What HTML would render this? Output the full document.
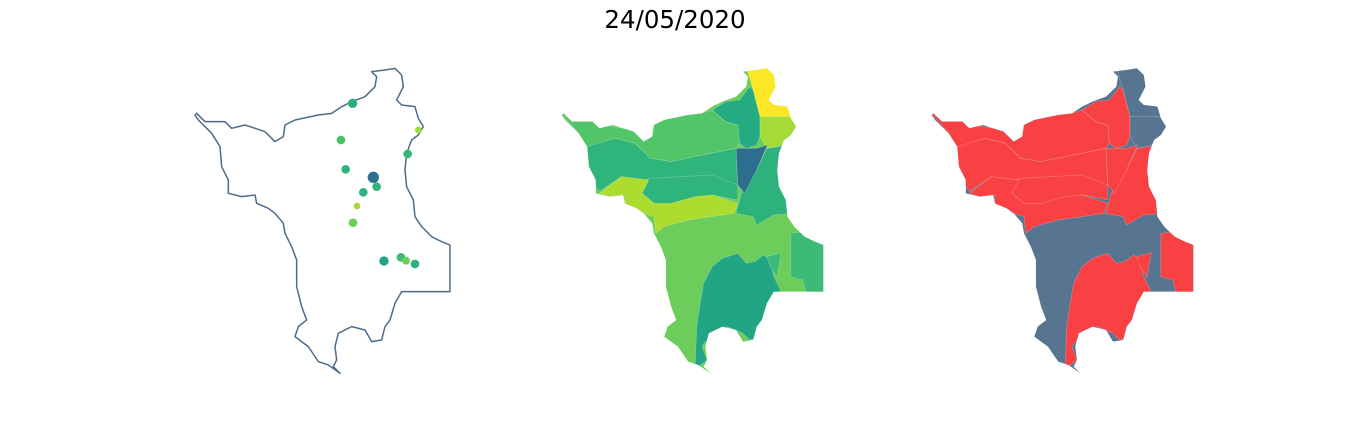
<!DOCTYPE html>
<html><head><meta charset="utf-8"><style>
html,body{margin:0;padding:0;background:#fff;}
svg{display:block;}
</style></head><body>
<svg id="chart" width="1350" height="444" viewBox="0 0 1350 444" xmlns="http://www.w3.org/2000/svg">
<text x="675" y="28" text-anchor="middle" font-family="DejaVu Sans, Liberation Sans, sans-serif" font-size="24.5" fill="#000">24/05/2020</text>
<defs><clipPath id="clip2"><path id="clipOutline"/></clipPath></defs>
<g id="p1" transform="translate(185,60) scale(0.3333)"></g>
<g id="p2" transform="translate(551.4,60) scale(0.342,0.3333)"></g>
<g id="p3" transform="translate(921.4,60) scale(0.342,0.3333)"></g>
</svg>
<script>
const NS="http://www.w3.org/2000/svg";
const outline=[[35,160],[60,185],[120,185],[140,205],[180,195],[210,205],[240,215],[270,245],[295,230],[300,195],[330,180],[400,165],[440,160],[470,140],[500,125],[540,110],[570,80],[575,50],[560,35],[600,30],[630,25],[650,45],[655,80],[635,120],[650,135],[690,140],[700,175],[715,200],[700,225],[680,240],[665,280],[660,330],[665,380],[685,420],[690,470],[710,500],[740,530],[770,545],[795,555],[795,695],[650,695],[630,730],[615,780],[600,800],[590,840],[560,845],[540,810],[500,800],[460,820],[450,860],[455,900],[445,920],[465,940],[430,915],[400,905],[370,860],[330,830],[340,800],[365,780],[350,740],[335,680],[335,600],[320,560],[300,520],[295,490],[270,460],[250,445],[215,430],[210,405],[170,410],[130,400],[130,360],[110,320],[105,260],[80,220],[40,180],[30,165]];
function pathOf(pts){return "M"+pts.map(p=>p[0]+","+p[1]).join("L")+"Z";}
const outline2=outline.map(p=>[p[0],p[1]]);
document.getElementById('clipOutline').setAttribute('d',pathOf(outline2));

// Point data (map coordinates in panel units), values, sizes
const ptX=[503,468,700,668,482,565,575,535,516,504,597,648,663,690];
const ptY=[130,240,210,282,328,352,380,397,438,488,603,592,602,612];
const ptColor=["#29af7f","#4ac16d","#a0da39","#35b779","#2fb47c","#2c728e","#2fb47c","#2db27d","#a5db36","#6ccd5a","#20a386","#3bbb75","#6ccd5a","#2db27d"];
const ptSize=[14,13,10,13,13,17,13,13,10,13,14,13,12,13];

const p1=document.getElementById('p1');
const ol=document.createElementNS(NS,'path');
ol.setAttribute('d',pathOf(outline));
ol.setAttribute('fill','#fff');ol.setAttribute('stroke','#4f6b8a');ol.setAttribute('stroke-width','4.5');ol.setAttribute('stroke-linejoin','round');


p1.appendChild(ol);
ptX.forEach((x,i)=>{const c=document.createElementNS(NS,'circle');
c.setAttribute('cx',x);c.setAttribute('cy',ptY[i]);c.setAttribute('r',ptSize[i]);c.setAttribute('fill',ptColor[i]);


p1.appendChild(c);});

const regions=[
 {n:"nw-band",c:"#52c569",b:1,p:[[20,150],[120,185],[180,200],[240,210],[300,180],[350,170],[440,160],[470,150],[510,185],[545,195],[550,250],[540,265],[420,290],[350,305],[290,295],[245,250],[185,235],[105,265],[80,220]]},
 {n:"north-teal",c:"#25ab82",b:1,p:[[470,150],[510,125],[550,120],[580,80],[590,90],[610,170],[610,230],[600,255],[570,265],[550,250],[545,195],[510,185]]},
 {n:"far-north",c:"#fde725",b:0,p:[[570,20],[670,20],[670,60],[660,125],[720,140],[715,170],[610,170],[590,90]]},
 {n:"northeast",c:"#a5db36",b:0,p:[[610,170],[715,170],[740,200],[715,235],[660,260],[630,265],[610,230]]},
 {n:"west-center",c:"#2fb47c",b:1,p:[[90,265],[185,235],[245,250],[290,295],[350,305],[420,290],[540,265],[545,375],[540,400],[470,370],[420,360],[290,355],[260,365],[205,350],[140,395],[120,360]]},
 {n:"center-strip",c:"#2fb47c",b:1,p:[[260,365],[290,355],[470,345],[545,375],[545,420],[470,405],[420,420],[340,440],[300,430],[265,400]]},
 {n:"lime-strip",c:"#addc30",b:1,p:[[140,400],[205,350],[285,360],[265,400],[300,430],[350,430],[420,410],[470,405],[545,430],[535,460],[400,480],[330,500],[305,520],[300,470],[270,460],[215,435],[215,405],[170,410]]},
 {n:"east-teal",c:"#2db27d",b:1,p:[[630,265],[695,255],[680,320],[680,380],[705,425],[712,460],[650,465],[600,495],[590,470],[540,460],[555,400],[600,330]]},
 {n:"capital",c:"#2d6e8e",b:1,p:[[540,265],[600,265],[632,255],[600,330],[565,400],[545,375]]},
 {n:"south-teal",c:"#21a585",b:1,p:[[430,920],[455,900],[440,860],[470,820],[515,800],[560,820],[580,840],[630,820],[640,780],[650,730],[670,690],[650,650],[640,600],[620,585],[595,605],[570,610],[545,580],[500,595],[470,620],[445,670],[435,730],[425,800],[420,930]]},
 {n:"small-strip",c:"#3bbb75",b:1,p:[[630,590],[672,578],[660,652],[640,620]]},
 {n:"southeast",c:"#3bbb75",b:1,p:[[700,520],[740,515],[775,545],[830,555],[830,700],[745,700],[735,660],[700,650]]}
];
function drawPanel(g,base,colorFn,strokeCol){
 const bg=document.createElementNS(NS,'path');
 bg.setAttribute('d',pathOf(outline2));bg.setAttribute('fill',base);
 
 
 g.appendChild(bg);
 const cg=document.createElementNS(NS,'g');cg.setAttribute('clip-path','url(#clip2)');g.appendChild(cg);
 regions.forEach(r=>{const e=document.createElementNS(NS,'path');
  e.setAttribute('d',pathOf(r.p));e.setAttribute('fill',colorFn(r));
  e.setAttribute('stroke',strokeCol);e.setAttribute('stroke-width','2');
  
  
  cg.appendChild(e);});
}
drawPanel(document.getElementById('p2'),"#6ccd5a",r=>r.c,"rgba(255,255,255,0.25)");
drawPanel(document.getElementById('p3'),"#577590",r=>r.b?"#f94144":"#577590","rgba(255,255,255,0.25)");
</script>
</body></html>
